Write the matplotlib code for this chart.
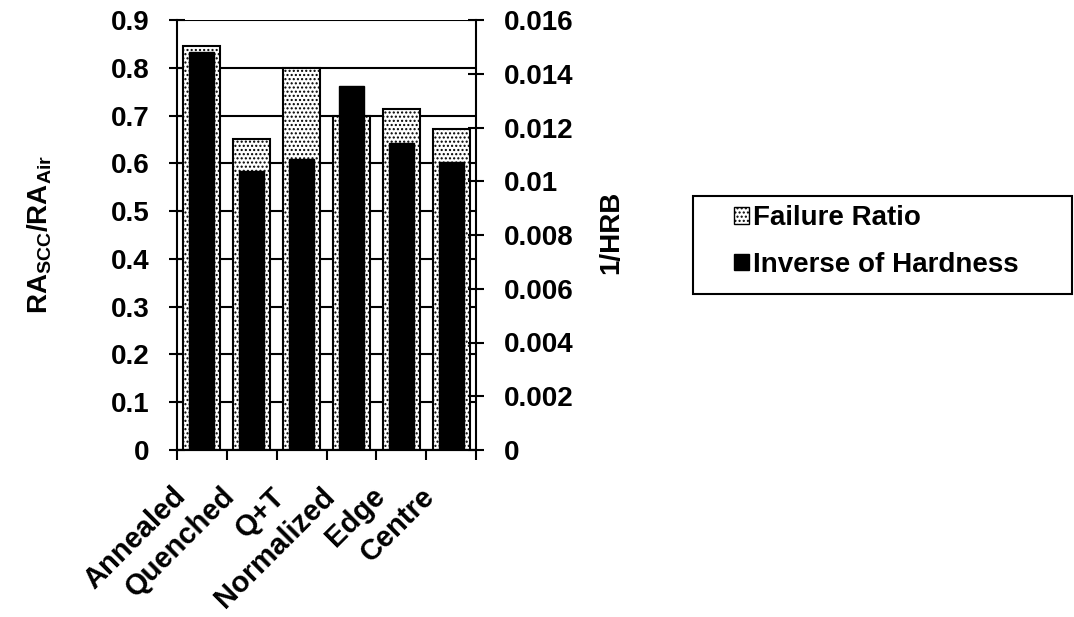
import matplotlib
matplotlib.use("Agg")
import matplotlib.pyplot as plt
import matplotlib.transforms as mtransforms
from matplotlib.patches import Rectangle
from matplotlib.ticker import MultipleLocator, FuncFormatter

plt.rcParams['font.family'] = ['Liberation Sans', 'DejaVu Sans']
plt.rcParams['font.weight'] = 'bold'
plt.rcParams['mathtext.fontset'] = 'custom'
plt.rcParams['mathtext.rm'] = 'Liberation Sans:bold'
plt.rcParams['mathtext.it'] = 'Liberation Sans:bold'
plt.rcParams['mathtext.bf'] = 'Liberation Sans:bold'
plt.rcParams['hatch.linewidth'] = 1.0

FS = 20

# Heat-treatment conditions
categories = ['Annealed', 'Quenched', 'Q+T', 'Normalized', 'Edge', 'Centre']
# RA_SCC / RA_Air (left axis)
failure_ratio = [0.845, 0.65, 0.80, 0.70, 0.714, 0.672]
# 1/HRB (right axis)
inverse_hardness = [0.0148, 0.01038, 0.01083, 0.01354, 0.01142, 0.01072]

left_ticks_step = 0.1
right_ticks_step = 0.002

fig = plt.figure(figsize=(10.74, 6.17), dpi=100)
ax = fig.add_axes([177 / 1074, 1 - 450 / 617, (476 - 177) / 1074, 430 / 617])
x = list(range(len(categories)))

ax.bar(x, failure_ratio, width=0.74, color='white', edgecolor='black',
       linewidth=1.5, hatch='....', zorder=2)
ax.set_xlim(-0.5, len(categories) - 0.5)
ax.set_ylim(0, 0.9)
ax.yaxis.set_major_locator(MultipleLocator(left_ticks_step))
ax.yaxis.set_major_formatter(FuncFormatter(lambda v, p: '%g' % round(v, 3)))
ax.grid(axis='y', color='black', linewidth=1.5, zorder=0)
ax.set_axisbelow(True)

ax2 = ax.twinx()
ax2.bar(x, inverse_hardness, width=0.5, color='black', edgecolor='black',
        linewidth=1.0, zorder=3)
ax2.set_ylim(0, 0.016)
ax2.yaxis.set_major_locator(MultipleLocator(right_ticks_step))
ax2.yaxis.set_major_formatter(FuncFormatter(lambda v, p: '%g' % round(v, 4)))

for a in (ax, ax2):
    for s in a.spines.values():
        s.set_linewidth(1.5)
    a.spines['top'].set_visible(False)
ax.spines['right'].set_visible(False)
ax2.spines['left'].set_visible(False)

ax.tick_params(axis='y', direction='inout', length=12, width=1.5,
               labelsize=FS, pad=14)
ax2.tick_params(axis='y', direction='inout', length=12, width=1.5,
                labelsize=FS, pad=14)

# category boundary ticks along the bottom
ax.set_xticks([i - 0.5 for i in range(len(categories) + 1)])
ax.set_xticklabels([])
ax.tick_params(axis='x', which='major', direction='out', length=7, width=1.5)
ax.set_xticks(x, minor=True)
ax.set_xticklabels(categories, minor=True, rotation=45, ha='right',
                   va='center', rotation_mode='anchor', fontsize=21,
                   fontweight='bold')
ax.tick_params(axis='x', which='minor', length=0, pad=0)
offset = mtransforms.ScaledTranslation(-21 / 100, -42 / 100, fig.dpi_scale_trans)
for lbl in ax.get_xticklabels(minor=True):
    lbl.set_transform(lbl.get_transform() + offset)

ax.set_ylabel(r'RA$_{\mathregular{SCC}}$/RA$_{\mathregular{Air}}$',
              fontsize=FS, fontweight='bold')
ax.yaxis.set_label_coords(-0.41, 0.5)
ax2.set_ylabel('1/HRB', fontsize=FS, fontweight='bold')
ax2.yaxis.set_label_coords(1.41, 0.507)

# legend
fig.patches.append(Rectangle((693 / 1074, 1 - 294 / 617), (1072 - 693) / 1074,
                             98 / 617, transform=fig.transFigure,
                             facecolor='white', edgecolor='black',
                             linewidth=1.5))
handles = [plt.Rectangle((0, 0), 1, 1, facecolor='white', edgecolor='black',
                         hatch='....', linewidth=1.0),
           plt.Rectangle((0, 0), 1, 1, facecolor='black', edgecolor='black')]
fig.legend(handles, ['Failure Ratio', 'Inverse of Hardness'],
           loc='upper left', bbox_to_anchor=(734 / 1074, 1 - 205 / 617),
           frameon=False, fontsize=FS, handlelength=0.55, handleheight=0.55,
           handletextpad=0.15, labelspacing=0.75, borderpad=0,
           borderaxespad=0)

fig.savefig('out.png', dpi=100)
